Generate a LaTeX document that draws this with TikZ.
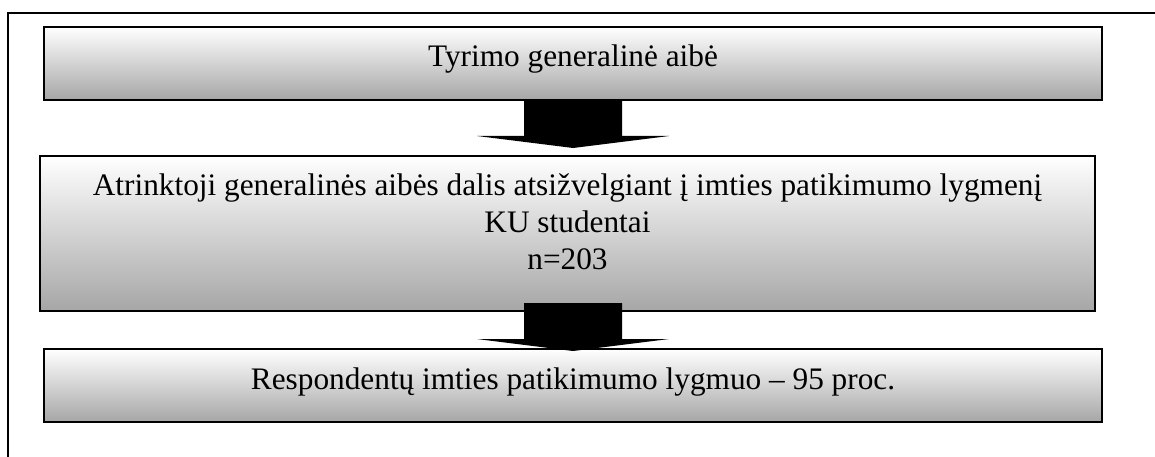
\documentclass[tikz,border=0pt]{standalone}
\usepackage{fontspec}
\setmainfont{Liberation Serif}
\usetikzlibrary{calc}
\definecolor{boxgray}{HTML}{A6A6A6}
\begin{document}
\begin{tikzpicture}[x=1pt,y=-1pt,
  stagebox/.style={draw=black,line width=2pt,inner sep=0pt,
    top color=white,bottom color=boxgray,
    minimum width=1058pt,text=black},
  frameline/.style={draw=black,line width=1.4pt},
  downarrow/.pic={
    \fill[black] (-49,0) -- (-49,36) -- (-96,36) -- (0,48)
      -- (96,36) -- (49,36) -- (49,0) -- cycle;},
  font=\fontsize{31.3}{37}\selectfont]
\useasboundingbox (0,0) rectangle (1155,457);

% open outer frame (left and top edges)
\coordinate (fbl) at (8,457);
\coordinate (ftl) at (8,13);
\coordinate (ftr) at (1155,13);
\draw[frameline] (fbl) -- (ftl) -- (ftr);

% stage boxes
\node[stagebox,minimum height=73pt,text height=21pt,text depth=14pt]
  (b1) at (573,63.5) {Tyrimo generalinė aibė};
\node[stagebox,minimum width=1055pt,minimum height=155pt,
      text height=21pt,text depth=98pt]
  (b2) at (567.5,233.5)
  {\begin{tabular}[t]{@{}c@{}}Atrinktoji generalinės aibės dalis atsižvelgiant į imties patikimumo lygmenį\\
   KU studentai\\ n=203\end{tabular}};
\node[stagebox,minimum height=73pt,text height=21pt,text depth=14pt]
  (b3) at (573,385.5) {Respondentų imties patikimumo lygmuo – 95 proc.};

% block arrows between the stages
\path ($(b1.south)+(0,-1)$) pic {downarrow};
\path ($(b1.south |- b2.south)+(0,-9)$) pic {downarrow};
\end{tikzpicture}
\end{document}
